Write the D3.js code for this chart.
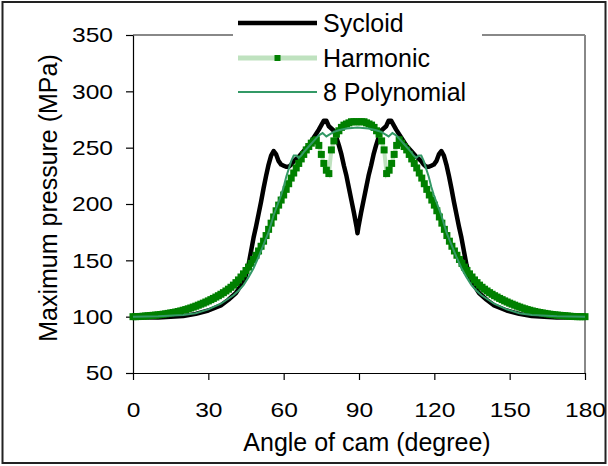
<!DOCTYPE html>
<html>
<head>
<meta charset="utf-8">
<script src="https://cdn.jsdelivr.net/npm/d3@7"></script>
<style>
  html, body { margin: 0; padding: 0; background: #fff; }
  svg { display: block; }
  text { font-family: "Liberation Sans", Arial, sans-serif; fill: #000; }
</style>
</head>
<body>
<svg id="chart" width="608" height="466"></svg>
<script>
// ---------------- DATA ----------------
const xTicks = [0, 30, 60, 90, 120, 150, 180];
const yTicks = [50, 100, 150, 200, 250, 300, 350];
const xTitle = "Angle of cam (degree)";
const yTitle = "Maximum pressure (MPa)";
const seriesNames = ["Sycloid", "Harmonic", "8 Polynomial"];

const sycloidAngles = [0,10,20,25,30,35,38,41,43,44,45,46,47,48,49,50,51,52,53,54,55,56,57,58,59,60,61,62,63,64,66,68,70,72,74,75,76,77,78,79,80,81,82,83,84,85,86,87,88,89,89.4,
  89.8,90.8,91.8,92.8,93.8,94.8,95.8,96.8,97.8,98.8,99.8,100.8,101.8,102.8,103.8,104.8,106.8,108.8,110.8,112.8,114.8,115.8,116.8,117.8,118.8,119.8,120.8,121.8,122.8,123.8,124.8,125.8,126.8,127.8,128.8,129.8,130.8,131.8,132.8,133.8,134.8,135.8,137.8,140.8,143.8,148.8,153.8,158.8,168.8,180];
const sycloidValues = [99.5,99.2,100.5,102.5,105.5,110,115,121,128,132,137,146,158,170,180,191,202,214,225,235,243,247,244,238,235,234,233,233,235,238,242,247,252,259,266,270,274,274,269,267,265,259,252,244,234,225,214,203,192,180,174,
  180,192,203,214,225,234,244,252,259,265,267,269,274,274,270,266,259,252,247,242,238,235,233,233,234,235,238,244,247,243,235,225,214,202,191,180,170,158,146,137,132,128,121,115,110,105.5,102.5,100.5,99.2,99.5];

// Harmonic: one value per degree, 0..180
const harmonicValues = [
  100,100,100.1,100.2,100.4,100.6,100.8,101,101.2,101.4,
  101.6,101.9,102.2,102.5,102.9,103.3,103.7,104.1,104.6,105.1,
  105.7,106.3,107,107.7,108.5,109.3,110.2,111.1,112,113,
  114,115.1,116.2,117.4,118.6,119.9,121.3,122.8,124.4,126.1,
  128,130.2,132.6,135.2,138,141,144,147.3,150.8,154.5,
  158.3,162.5,167,172,177.5,183,188.5,194,199,203.5,
  208,213,218,223,227.5,232,236,240,244,248,
  251,254,256,257,252,244,236,230,227,248,
  256,262,265,268,270,271,272,273,273,273,
  273,273,273,272,271,270,268,265,262,256,
  248,227,230,236,244,252,257,254,251,248,
  244,240,236,232,227.5,223,218,213,208,203.5,
  199,194,188.5,183,177.5,172,167,162.5,158.3,154.5,
  150.8,147.3,144,141,138,135.2,132.6,130.2,128,126.1,
  124.4,122.8,121.3,119.9,118.6,117.4,116.2,115.1,114,113,
  112,111.1,110.2,109.3,108.5,107.7,107,106.3,105.7,105.1,
  104.6,104.1,103.7,103.3,102.9,102.5,102.2,101.9,101.6,101.4,
  101.2,101,100.8,100.6,100.4,100.2,100.1,100,100,100,
  100
];

const polyAngles = [0,10,20,25,30,35,40,42,44,46,48,50,52,54,56,58,59,60,61,62,63,64,65,66,67,68,70,72,74,75.5,77,78.5,80,82,85,89.4,
  93.8,96.8,98.8,100.3,101.8,103.3,104.8,106.8,108.8,110.8,111.8,112.8,113.8,114.8,115.8,116.8,117.8,118.8,119.8,120.8,122.8,124.8,126.8,128.8,130.8,132.8,134.8,136.8,138.8,143.8,148.8,153.8,158.8,168.8,180];
const polyValues = [100,100.3,101.5,103,106.5,111.5,119,123,128,135,143,153,164,175,190,202,208,215,224,231,238,243,243,241,243,246,251,256,261,263,260,262,264,265.5,267,268,
  267,265.5,264,262,260,263,261,256,251,246,243,241,243,243,238,231,224,215,208,202,190,175,164,153,143,135,128,123,119,111.5,106.5,103,101.5,100.3,100];

// ---------------- CHART ----------------
const svg = d3.select("#chart");
const x = d3.scaleLinear().domain([0, 180]).range([133, 585]);
const y = d3.scaleLinear().domain([50, 350]).range([373, 35]);

// outer frame
svg.append("rect").attr("x", 2.5).attr("y", 2).attr("width", 603).attr("height", 461)
  .attr("fill", "#fff").attr("stroke", "#222").attr("stroke-width", 2);

// gray plot border (top & right)
svg.append("line").attr("x1", x(0)).attr("x2", x(180)).attr("y1", y(350)).attr("y2", y(350))
  .attr("stroke", "#888").attr("stroke-width", 2);
svg.append("line").attr("x1", x(180)).attr("x2", x(180)).attr("y1", y(350)).attr("y2", y(50))
  .attr("stroke", "#888").attr("stroke-width", 2);

function stretch(sel, k) {
  sel.each(function() {
    const len = this.getComputedTextLength();
    d3.select(this).attr("textLength", len * k).attr("lengthAdjust", "spacingAndGlyphs");
  });
}

const gx = svg.append("g").attr("transform", `translate(0,${y(50)})`)
  .call(d3.axisBottom(x).tickValues(xTicks).tickSize(7).tickPadding(22).tickSizeOuter(0));
const gy = svg.append("g").attr("transform", `translate(${x(0)},0)`)
  .call(d3.axisLeft(y).tickValues(yTicks).tickSize(7).tickPadding(13).tickSizeOuter(0));
[gx, gy].forEach(g => {
  g.select(".domain").attr("stroke", "#000").attr("stroke-width", 1.2);
  g.selectAll(".tick line").attr("stroke", "#000").attr("stroke-width", 1.2);
  g.selectAll(".tick text").attr("font-size", 21).attr("fill", "#000")
    .style("font-family", '"Liberation Sans", Arial, sans-serif');
  stretch(g.selectAll(".tick text"), 1.17);
});

// axis titles
svg.append("text").attr("x", 367).attr("y", 451).attr("text-anchor", "middle")
  .attr("font-size", 25).text(xTitle);
svg.append("text").attr("transform", "translate(56.5,198) rotate(-90)").attr("text-anchor", "middle")
  .attr("font-size", 25).text(yTitle);

// series
const line = d3.line().x(d => x(d[0])).y(d => y(d[1]));
const sycloidData = sycloidAngles.map((a, i) => [a, sycloidValues[i]]);
const harmonicData = harmonicValues.map((v, i) => [i, v]);
const polyData = polyAngles.map((a, i) => [a, polyValues[i]]);

const plot = svg.append("g");
plot.append("path").datum(sycloidData).attr("d", line)
  .attr("fill", "none").attr("stroke", "#000").attr("stroke-width", 4.5).attr("stroke-linejoin", "round");
plot.append("path").datum(harmonicData).attr("d", line)
  .attr("fill", "none").attr("stroke", "#bfe2bf").attr("stroke-width", 4);
plot.selectAll("rect.hm").data(harmonicData).join("rect").attr("class", "hm")
  .attr("x", d => x(d[0]) - 3.5).attr("y", d => y(d[1]) - 3.5).attr("width", 7).attr("height", 7)
  .attr("fill", "#008000");
plot.append("path").datum(polyData).attr("d", line)
  .attr("fill", "none").attr("stroke", "#339966").attr("stroke-width", 2);

// legend
svg.append("rect").attr("x", 233).attr("y", 5).attr("width", 249).attr("height", 103).attr("fill", "#fff");
const legY = [23, 58, 92];
const lg = svg.append("g");
lg.append("line").attr("x1", 238).attr("x2", 317).attr("y1", legY[0]).attr("y2", legY[0])
  .attr("stroke", "#000").attr("stroke-width", 4.5);
lg.append("line").attr("x1", 238).attr("x2", 317).attr("y1", legY[1]).attr("y2", legY[1])
  .attr("stroke", "#bfe2bf").attr("stroke-width", 5);
lg.append("rect").attr("x", 274.5).attr("y", legY[1] - 3).attr("width", 6).attr("height", 6).attr("fill", "#008000");
lg.append("line").attr("x1", 238).attr("x2", 317).attr("y1", legY[2]).attr("y2", legY[2])
  .attr("stroke", "#339966").attr("stroke-width", 2);
lg.selectAll("text").data(seriesNames).join("text")
  .attr("x", 323).attr("y", (d, i) => legY[i] + 9.3).attr("font-size", 25).text(d => d);
</script>
</body>
</html>
